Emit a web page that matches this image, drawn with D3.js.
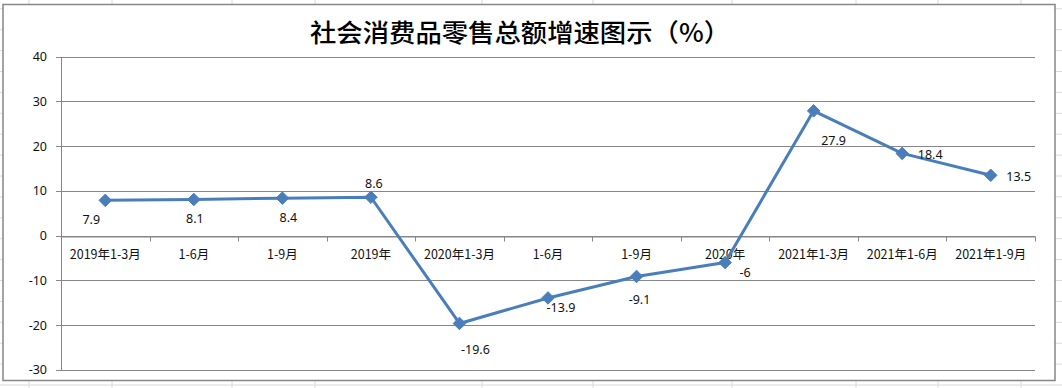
<!DOCTYPE html>
<html lang="zh-CN">
<head>
<meta charset="utf-8">
<title>社会消费品零售总额增速图示</title>
<script src="https://d3js.org/d3.v7.min.js"></script>
<style>
  body { margin: 0; background: #fff; }
  svg { display: block; }
  .cat { font-family: "Noto Sans CJK SC", sans-serif; font-size: 12.5px; fill: #111; }
  .ytick { font-family: "Noto Sans", "DejaVu Sans", sans-serif; font-size: 12.5px; fill: #111; }
  .lbl { font-family: "Noto Sans", "DejaVu Sans", sans-serif; font-size: 12.5px; fill: #111; }
  .title { font-family: "Noto Sans CJK SC", serif; font-size: 25px; font-weight: 500; fill: #000; }
</style>
</head>
<body>
<svg id="chart" width="1062" height="388"></svg>
<script>
const categories = ["2019年1-3月", "1-6月", "1-9月", "2019年", "2020年1-3月", "1-6月", "1-9月", "2020年", "2021年1-3月", "2021年1-6月", "2021年1-9月"];
const growth = [7.9, 8.1, 8.4, 8.6, -19.6, -13.9, -9.1, -6, 27.9, 18.4, 13.5];
const yTicks = [40, 30, 20, 10, 0, -10, -20, -30];
const title = "社会消费品零售总额增速图示（%）";

// manual data-label offsets, as placed in the original
const labelOffsets = [[-14, 19], [1, 19], [6, 19], [3, -14], [16, 26], [13, 10], [3, 23], [20, 10], [20, 30], [28, 1], [28, 1]];

const svg = d3.select("#chart");

// spreadsheet cells behind the chart
const colLines = [29, 112, 232, 315, 482, 593, 732, 856, 938, 1021];
const rowLines = d3.range(0, 19).map(k => 385 - 20.9 * k);
svg.selectAll(".col").data(colLines).enter().append("line")
  .attr("x1", d => d).attr("x2", d => d).attr("y1", 0).attr("y2", 388)
  .attr("stroke", "#dadada").attr("stroke-width", 1);
svg.selectAll(".row").data(rowLines).enter().append("line")
  .attr("x1", 0).attr("x2", 1062).attr("y1", d => d).attr("y2", d => d)
  .attr("stroke", "#dadada").attr("stroke-width", 1);

// chart area
svg.append("rect").attr("x", 3).attr("y", 4.5).attr("width", 1052).attr("height", 376)
  .attr("fill", "#fff").attr("stroke", "#878787").attr("stroke-width", 1.5);

const left = 61, right = 1035;
const x = d3.scaleBand().domain(d3.range(categories.length)).range([left, right]);
const y = d3.scaleLinear().domain([-30, 40]).range([370, 56.7]);

// title
svg.append("text").attr("class", "title")
  .attr("x", 520).attr("y", 42).attr("text-anchor", "middle")
  .attr("textLength", 420).attr("lengthAdjust", "spacingAndGlyphs")
  .text(title);

// horizontal gridlines + y ticks
const g = svg.append("g");
g.selectAll(".grid").data(yTicks).enter().append("line")
  .attr("x1", left - 5).attr("x2", right)
  .attr("y1", d => Math.round(y(d)) + 0.5).attr("y2", d => Math.round(y(d)) + 0.5)
  .attr("stroke", "#878787").attr("stroke-width", 1);
g.selectAll(".ytick").data(yTicks).enter().append("text")
  .attr("class", "ytick").attr("x", 47).attr("y", d => y(d)).attr("dy", "0.35em")
  .attr("text-anchor", "end").text(d => d);

// y axis line
g.append("line").attr("x1", left + 0.5).attr("x2", left + 0.5)
  .attr("y1", Math.round(y(40))).attr("y2", Math.round(y(-30)) + 1)
  .attr("stroke", "#878787");

// x axis at zero with ticks between categories
const xAxis = d3.axisBottom(x).tickSize(0).tickFormat(i => categories[i]);
const y0 = Math.round(y(0)) + 0.5;
const ax = svg.append("g").attr("transform", `translate(0,${y0})`).call(xAxis);
ax.select(".domain").attr("stroke", "#878787");
ax.selectAll("text").attr("class", "cat").attr("y", 18).attr("dy", "0.35em");
const bounds = d3.range(categories.length + 1).map(i => i === categories.length ? right : x(i));
svg.selectAll(".xt").data(bounds).enter().append("line")
  .attr("x1", d => Math.round(d) + 0.5).attr("x2", d => Math.round(d) + 0.5)
  .attr("y1", y0).attr("y2", y0 + 5).attr("stroke", "#878787");

// series line
const cx = i => x(i) + x.bandwidth() / 2;
const line = d3.line().x((d, i) => cx(i)).y(d => y(d));
svg.append("path").datum(growth).attr("d", line)
  .attr("fill", "none").attr("stroke", "#4a7ebb").attr("stroke-width", 3)
  .attr("stroke-linejoin", "round");

// diamond markers
const diamond = d3.symbol().type(d3.symbolDiamond2).size(100);
svg.selectAll(".mk").data(growth).enter().append("path")
  .attr("d", diamond)
  .attr("transform", (d, i) => `translate(${cx(i)},${y(d)})`)
  .attr("fill", "#4a7ebb").attr("stroke", "#4a7ebb").attr("stroke-width", 1);

// data labels
svg.selectAll(".lbl").data(growth).enter().append("text")
  .attr("class", "lbl").attr("text-anchor", "middle")
  .attr("x", (d, i) => cx(i) + labelOffsets[i][0])
  .attr("y", (d, i) => y(d) + labelOffsets[i][1]).attr("dy", "0.35em")
  .text(d => d);
</script>
</body>
</html>
